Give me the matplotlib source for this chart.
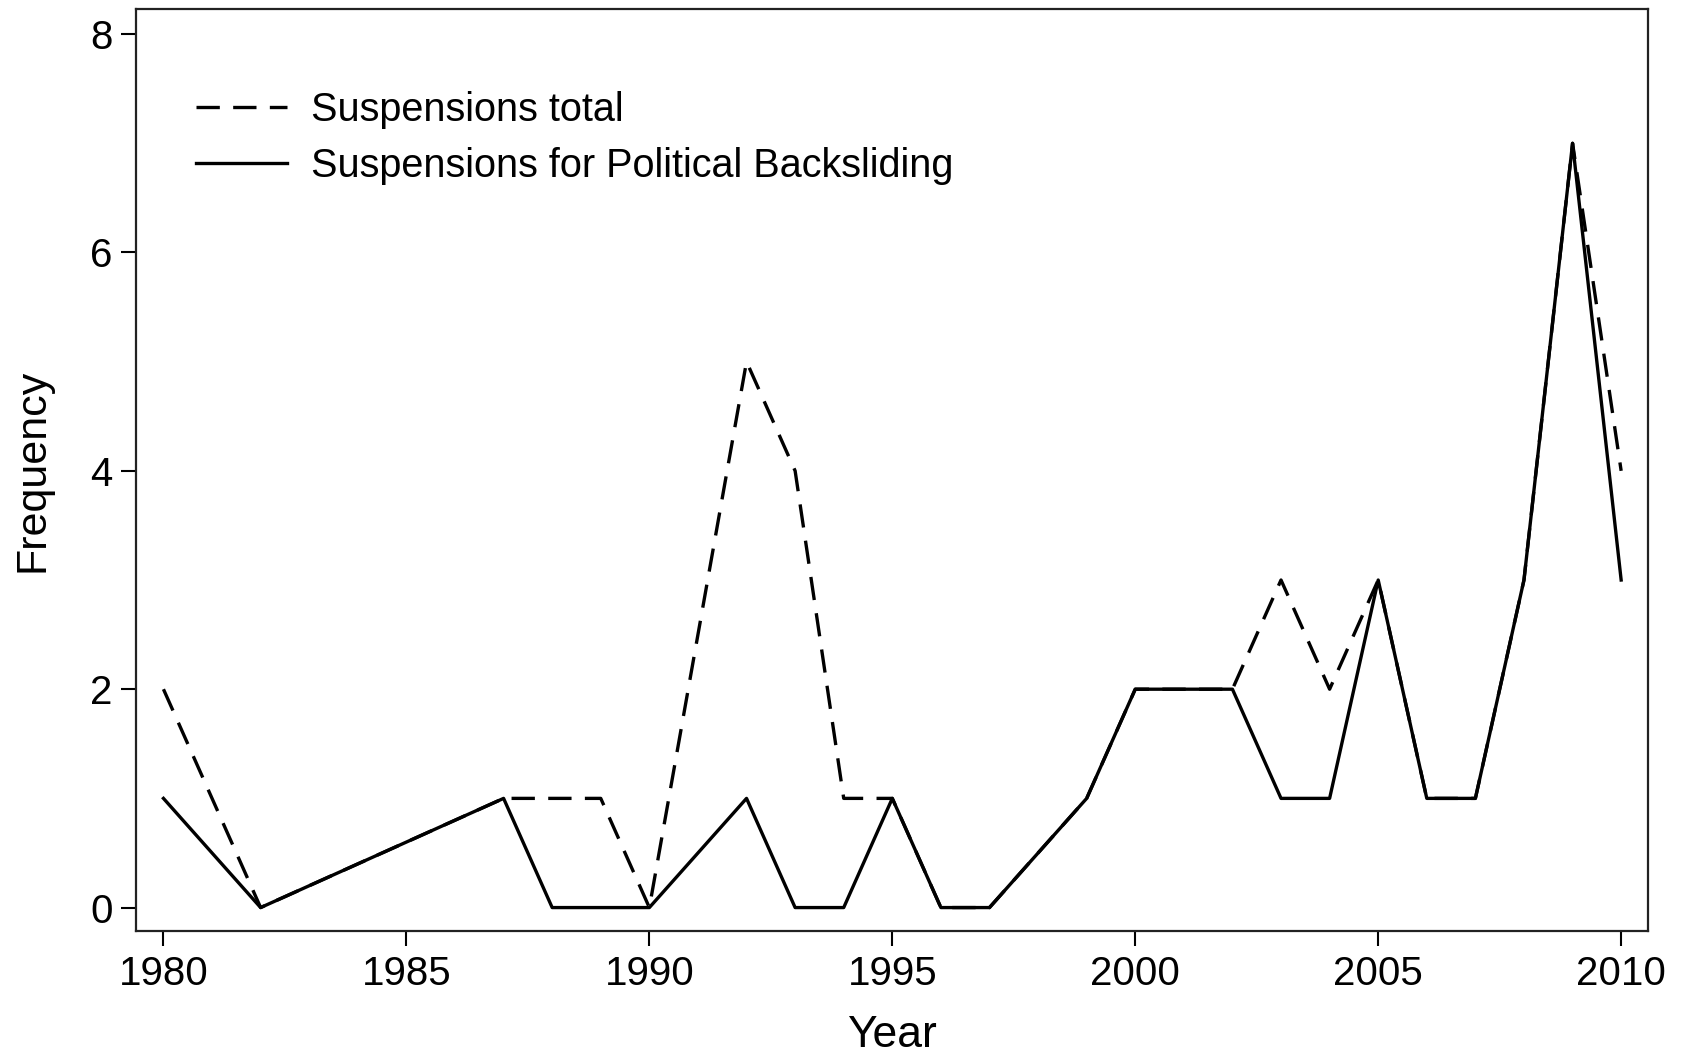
import matplotlib
matplotlib.use("Agg")
import matplotlib.pyplot as plt

# Suspensions per year
years_total = [1980, 1982, 1987, 1989, 1990, 1992, 1993, 1994, 1995, 1996, 1997,
               1999, 2000, 2002, 2003, 2004, 2005, 2006, 2007, 2008, 2009, 2010]
total = [2, 0, 1, 1, 0, 5, 4, 1, 1, 0, 0,
         1, 2, 2, 3, 2, 3, 1, 1, 3, 7, 4]

years_political = [1980, 1982, 1987, 1988, 1990, 1992, 1993, 1994, 1995, 1996, 1997,
                   1999, 2000, 2002, 2003, 2004, 2005, 2006, 2007, 2008, 2009, 2010]
political = [1, 0, 1, 0, 0, 1, 0, 0, 1, 0, 0,
             1, 2, 2, 1, 1, 3, 1, 1, 3, 7, 3]

x_ticks = [1980, 1985, 1990, 1995, 2000, 2005, 2010]
y_ticks = [0, 2, 4, 6, 8]

plt.rcParams['font.family'] = ['Liberation Sans', 'DejaVu Sans']

fig = plt.figure(figsize=(16.82, 10.58), dpi=100)
ax = fig.add_axes([0.081, 0.120, 0.899, 0.8715])

ax.plot(years_total, total, color='black', lw=2.4, dashes=(7, 4),
        label='Suspensions total')
ax.plot(years_political, political, color='black', lw=2.4,
        label='Suspensions for Political Backsliding')

ax.set_xlim(1979.44, 2010.56)
ax.set_ylim(-0.215, 8.23)
ax.set_xticks(x_ticks)
ax.set_yticks(y_ticks)
ax.tick_params(labelsize=29, length=11, width=1.5, pad=6, colors='black')
for s in ax.spines.values():
    s.set_linewidth(1.6)
    s.set_color('#222222')

ax.set_xlabel('Year', fontsize=32, labelpad=16)
ax.set_ylabel('Frequency', fontsize=31, labelpad=27)

ax.legend(loc='upper left', bbox_to_anchor=(0.016, 0.95), frameon=False,
          fontsize=28.5, handlelength=2.3, handletextpad=0.6, labelspacing=0.47)

fig.savefig('out.png', dpi=100)
